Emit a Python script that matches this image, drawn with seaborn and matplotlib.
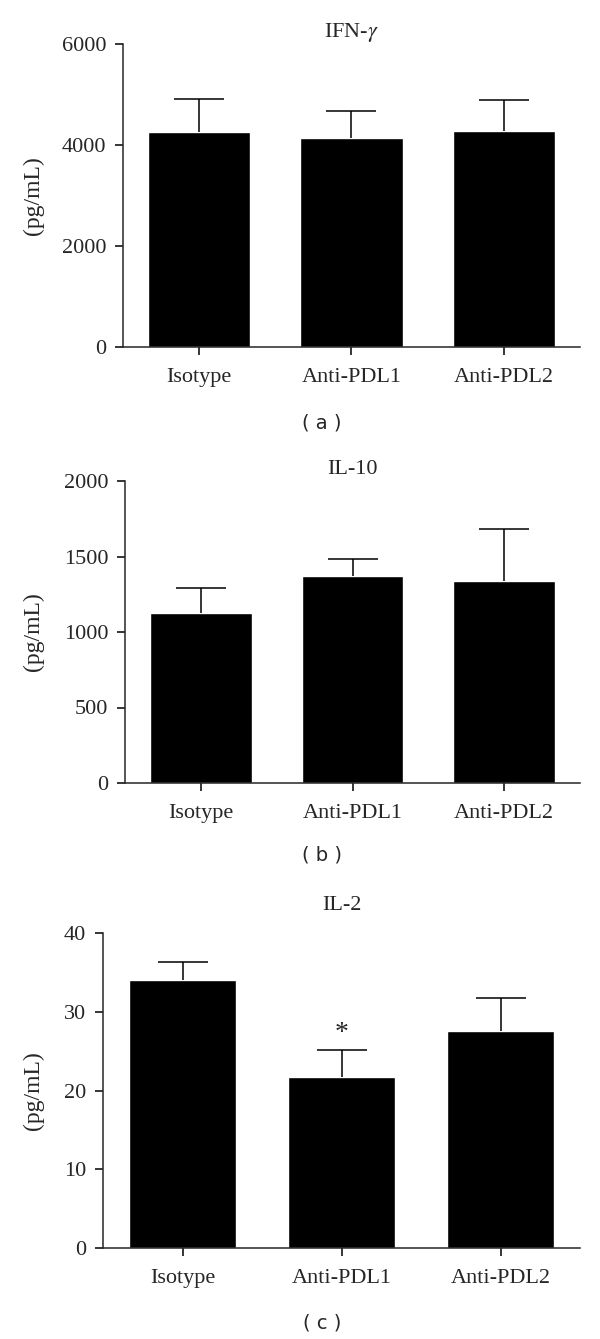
import numpy as np
import pandas as pd
import matplotlib
matplotlib.use("Agg")
import matplotlib.pyplot as plt
import seaborn as sns

# --- dados (media e limite superior da barra de erro) ---
grupos = ["Isotype", "Anti-PDL1", "Anti-PDL2"]

ifn_media = [4260, 4130, 4280]
ifn_topo = [4910, 4680, 4900]

il10_media = [1124, 1369, 1337]
il10_topo = [1289, 1481, 1685]

il2_media = [34.0, 21.7, 27.5]
il2_topo = [36.3, 25.1, 31.8]

sns.set_style("ticks")
plt.rcParams["font.family"] = ["Liberation Serif", "DejaVu Serif"]
plt.rcParams["mathtext.fontset"] = "stix"
plt.rcParams["axes.linewidth"] = 1.1

W, H = 600, 1339
fig = plt.figure(figsize=(W / 100, H / 100), dpi=100)

# (titulo, medias, topos, yticks, ylim, caixa do eixo em pixels: esq, dir, topo, base, y do titulo, y do rotulo)
paineis = [
    ("IFN-$\\gamma$", ifn_media, ifn_topo, [0, 2000, 4000, 6000], 6000,
     (123, 580, 44, 347), 33, "( a )", 423),
    ("IL-10", il10_media, il10_topo, [0, 500, 1000, 1500, 2000], 2000,
     (125, 580, 481, 783), 470, "( b )", 855),
    ("IL-2", il2_media, il2_topo, [0, 10, 20, 30, 40], 40,
     (103, 580, 933, 1248), 906, "( c )", 1323),
]

for titulo, media, topo, yt, ymax, caixa, y_tit, rotulo, y_rot in paineis:
    esq, dir_, top, base = caixa
    ax = fig.add_axes([esq / W, 1 - base / H, (dir_ - esq) / W, (base - top) / H])
    df = pd.DataFrame({"grupo": grupos, "valor": media})
    sns.barplot(data=df, x="grupo", y="valor", color="black", saturation=1,
                errorbar=None, width=0.67, ax=ax)
    # barra de erro apenas para cima (SEM)
    erro_sup = np.array(topo) - np.array(media)
    _, caps, _ = ax.errorbar(np.arange(len(grupos)), media,
                             yerr=[np.zeros(len(grupos)), erro_sup],
                             fmt="none", ecolor="black", elinewidth=1.1,
                             capsize=18, capthick=1.1)
    caps[0].remove()  # tira o cap inferior (fica no topo da barra)
    ax.set_xlim(-0.5, 2.5)
    ax.set_ylim(0, ymax)
    ax.set_yticks(yt)
    ax.set_xlabel("")
    ax.set_ylabel("")
    sns.despine(ax=ax)
    ax.tick_params(axis="both", length=6, width=1.1, labelsize=16, color="black")
    ax.tick_params(axis="y", pad=6)
    ax.tick_params(axis="x", pad=9)

    cx = (esq + dir_) / 2 / W
    fig.text(cx, 1 - y_tit / H, titulo, ha="center", va="center", fontsize=16)
    fig.text(33 / W, 1 - (top + base) / 2 / H, "(pg/mL)", rotation=90,
             ha="center", va="center", fontsize=17)
    fig.text(322 / W, 1 - y_rot / H, rotulo, ha="center", va="center",
             fontsize=14, family="DejaVu Sans")

    if titulo == "IL-2":
        # asterisco de significancia sobre Anti-PDL1
        ax.text(1, topo[1] + 2.2, "*", ha="center", va="center", fontsize=20)

fig.savefig("out.png", dpi=100)
